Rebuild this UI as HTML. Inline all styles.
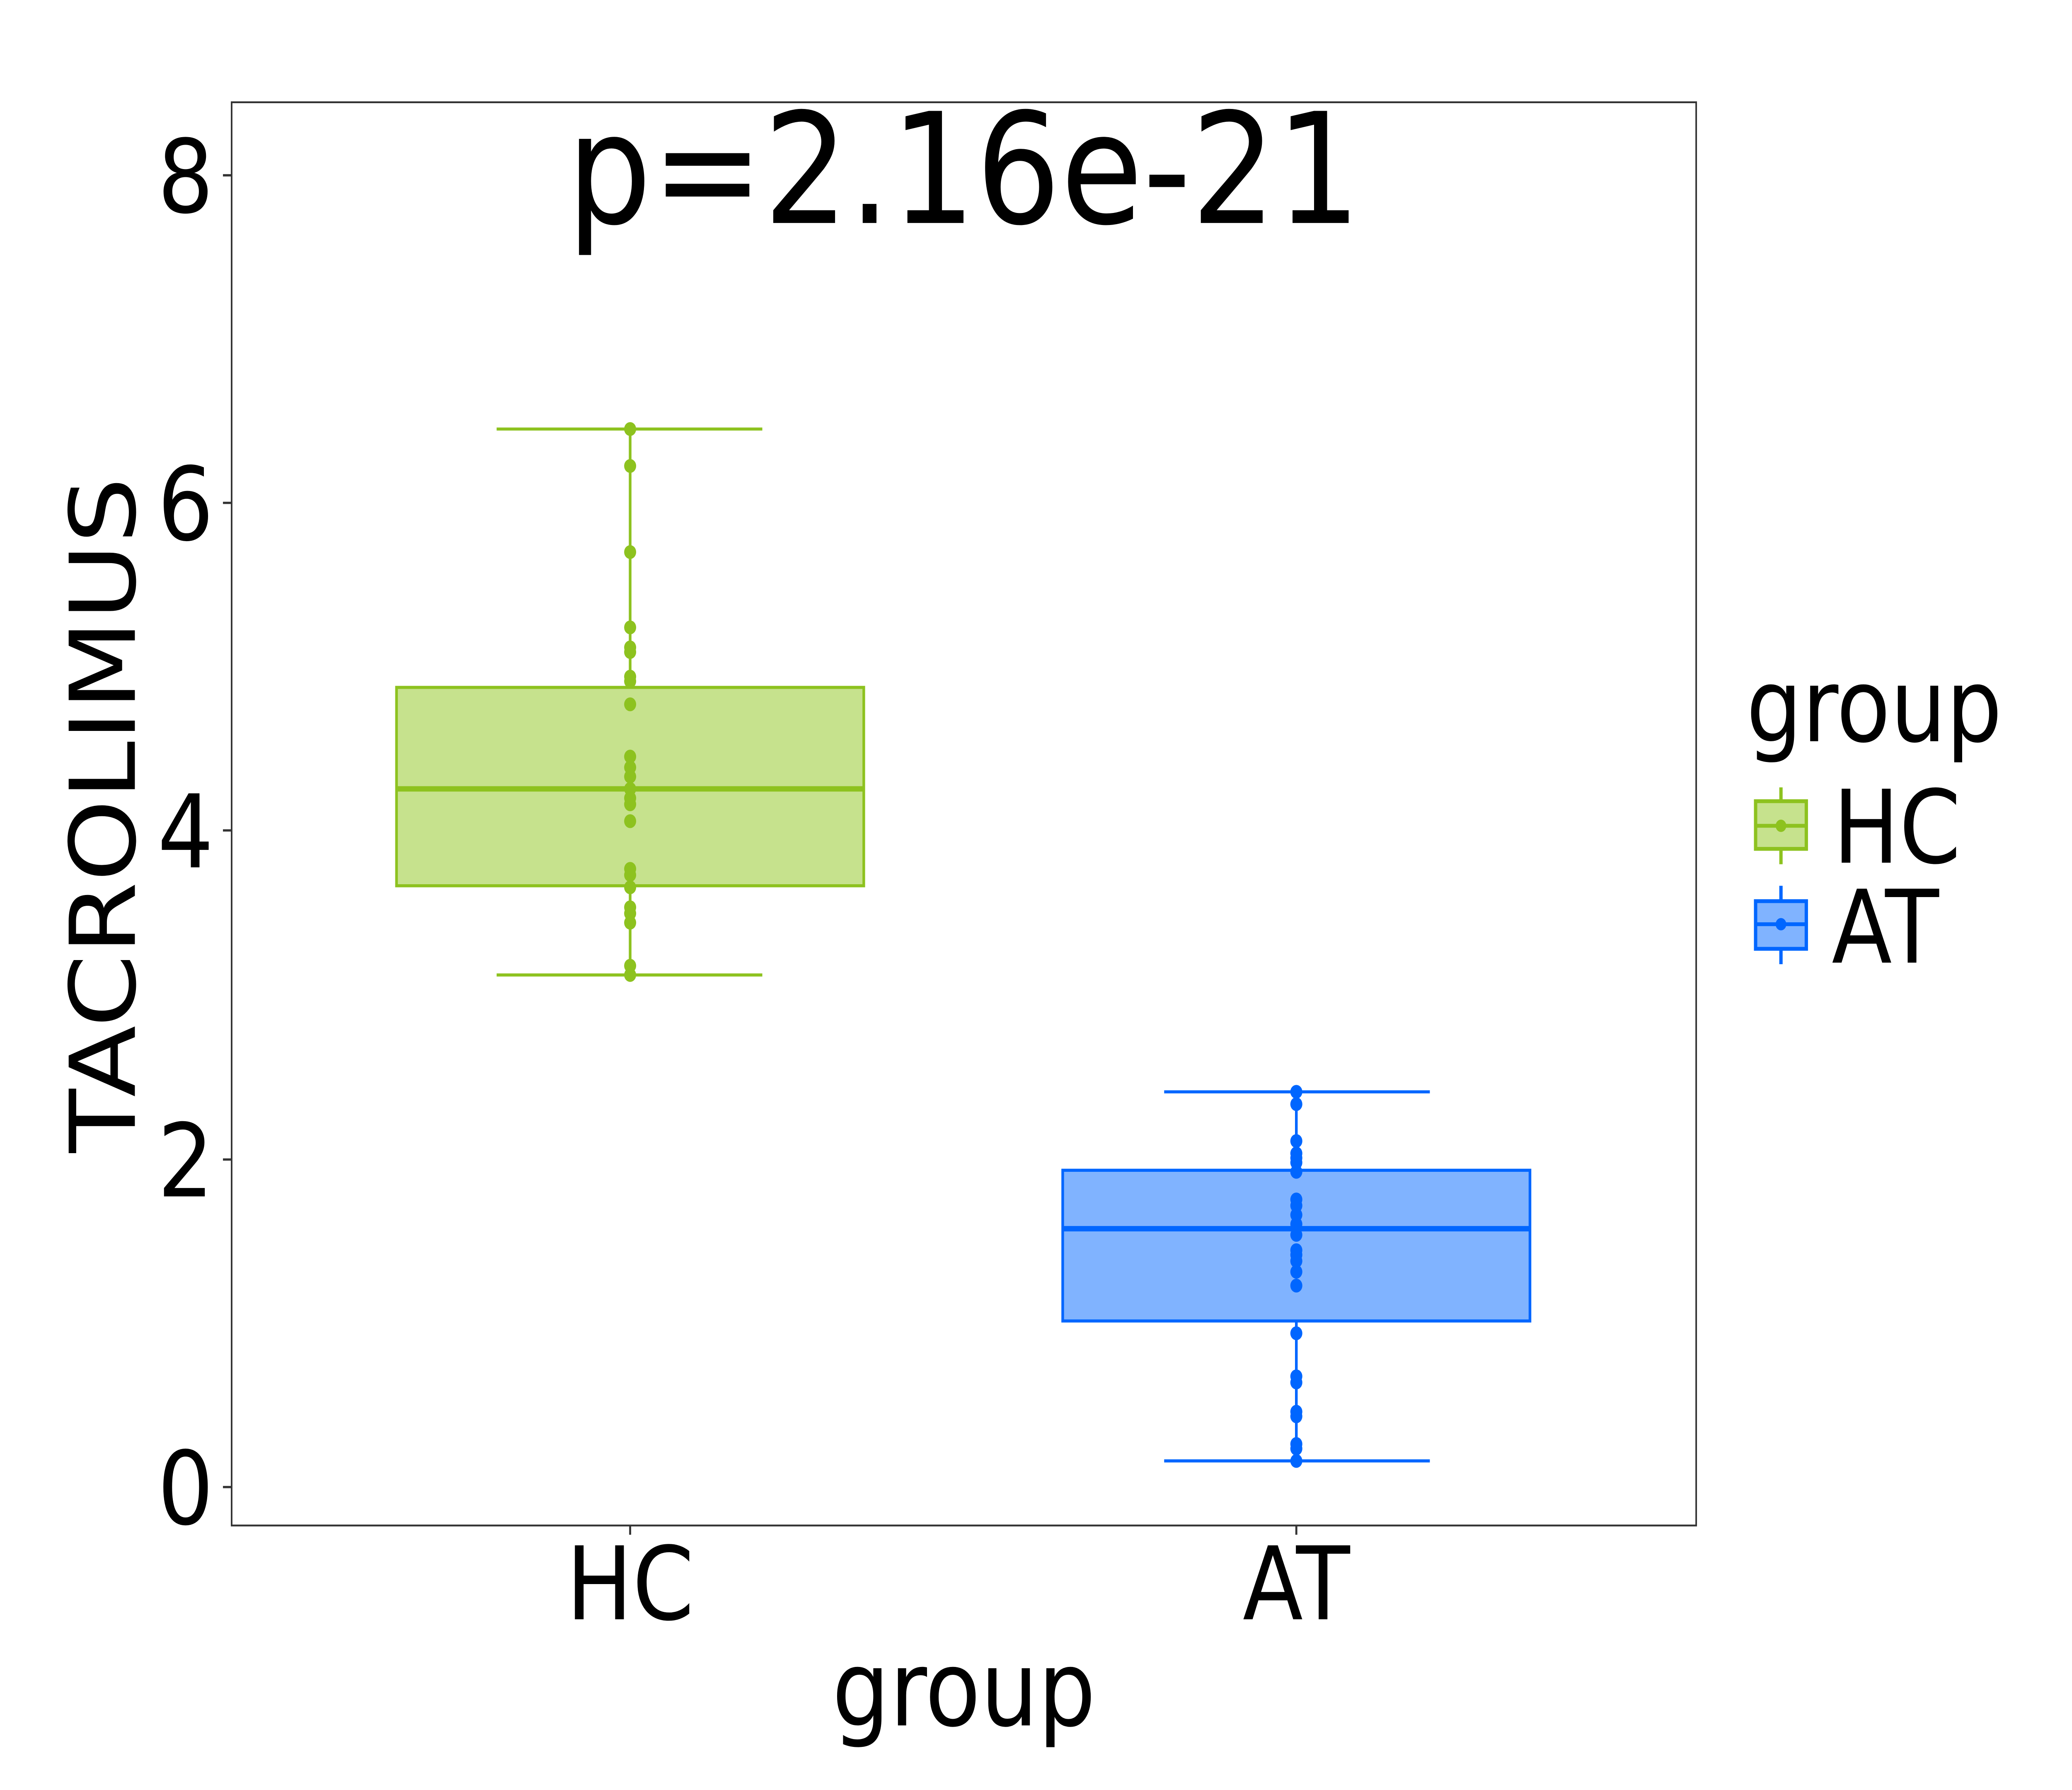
<!DOCTYPE html>
<html><head><style>html,body{margin:0;padding:0;background:#fff;overflow:hidden;width:100vw;height:100vh;}svg{display:block;width:100vw;height:100vh;}</style></head>
<body>
<svg viewBox="0 0 1552 1164" preserveAspectRatio="none" xmlns="http://www.w3.org/2000/svg" font-family="DejaVu Sans, Liberation Sans, sans-serif">
<rect width="1552" height="1164" fill="#fff"/>
<g stroke="#8dc21f" fill="#8dc21f">
<line x1="472" y1="279" x2="472" y2="634" stroke-width="2"/>
<line x1="372" y1="279" x2="571" y2="279" stroke-width="2"/>
<line x1="372" y1="634" x2="571" y2="634" stroke-width="2"/>
<rect x="297" y="447" width="350" height="129" fill="#c6e28d" stroke-width="2"/>
<line x1="297" y1="513" x2="647" y2="513" stroke-width="3.5"/>
<g stroke="none">
<circle cx="472" cy="279" r="4.5"/><circle cx="472" cy="303" r="4.5"/><circle cx="472" cy="359" r="4.5"/><circle cx="472" cy="408" r="4.5"/><circle cx="472" cy="421" r="4.5"/><circle cx="472" cy="424" r="4.5"/><circle cx="472" cy="440" r="4.5"/><circle cx="472" cy="443" r="4.5"/><circle cx="472" cy="458" r="4.5"/><circle cx="472" cy="492" r="4.5"/><circle cx="472" cy="499" r="4.5"/><circle cx="472" cy="505" r="4.5"/><circle cx="472" cy="513" r="4.5"/><circle cx="472" cy="519" r="4.5"/><circle cx="472" cy="523" r="4.5"/><circle cx="472" cy="534" r="4.5"/><circle cx="472" cy="565" r="4.5"/><circle cx="472" cy="569" r="4.5"/><circle cx="472" cy="577" r="4.5"/><circle cx="472" cy="590" r="4.5"/><circle cx="472" cy="594" r="4.5"/><circle cx="472" cy="600" r="4.5"/><circle cx="472" cy="628" r="4.5"/><circle cx="472" cy="634" r="4.5"/>
</g></g>
<g stroke="#0066ff" fill="#0066ff">
<line x1="971" y1="710" x2="971" y2="950" stroke-width="2"/>
<line x1="872" y1="710" x2="1071" y2="710" stroke-width="2"/>
<line x1="872" y1="950" x2="1071" y2="950" stroke-width="2"/>
<rect x="796" y="761" width="350" height="98" fill="#80b3ff" stroke-width="2"/>
<line x1="796" y1="799" x2="1146" y2="799" stroke-width="3.5"/>
<g stroke="none">
<circle cx="971" cy="710" r="4.5"/><circle cx="971" cy="718" r="4.5"/><circle cx="971" cy="742" r="4.5"/><circle cx="971" cy="750" r="4.5"/><circle cx="971" cy="753" r="4.5"/><circle cx="971" cy="756" r="4.5"/><circle cx="971" cy="762" r="4.5"/><circle cx="971" cy="780" r="4.5"/><circle cx="971" cy="784" r="4.5"/><circle cx="971" cy="790" r="4.5"/><circle cx="971" cy="796" r="4.5"/><circle cx="971" cy="803" r="4.5"/><circle cx="971" cy="813" r="4.5"/><circle cx="971" cy="816" r="4.5"/><circle cx="971" cy="820" r="4.5"/><circle cx="971" cy="827" r="4.5"/><circle cx="971" cy="836" r="4.5"/><circle cx="971" cy="867" r="4.5"/><circle cx="971" cy="895" r="4.5"/><circle cx="971" cy="899" r="4.5"/><circle cx="971" cy="918" r="4.5"/><circle cx="971" cy="921" r="4.5"/><circle cx="971" cy="939" r="4.5"/><circle cx="971" cy="942" r="4.5"/><circle cx="971" cy="950" r="4.5"/>
</g></g>
<rect x="173.5" y="66.5" width="1097" height="925.5" fill="none" stroke="#333" stroke-width="1.2"/>
<g stroke="#333" stroke-width="1.5">
<line x1="167" y1="114" x2="173" y2="114"/><line x1="167" y1="327" x2="173" y2="327"/><line x1="167" y1="540" x2="173" y2="540"/><line x1="167" y1="754" x2="173" y2="754"/><line x1="167" y1="967" x2="173" y2="967"/>
<line x1="472" y1="992" x2="472" y2="998"/><line x1="971" y1="992" x2="971" y2="998"/>
</g>
<g font-size="66" text-anchor="end" fill="#000">
<text x="160" y="138">8</text><text x="160" y="351">6</text><text x="160" y="564">4</text><text x="160" y="778">2</text><text x="160" y="991">0</text>
</g>
<g font-size="66" text-anchor="middle" fill="#000">
<text x="472" y="1053">HC</text><text x="971" y="1053">AT</text>
</g>
<text x="722" y="1122" font-size="68" text-anchor="middle">group</text>
<text transform="translate(101,530) rotate(-90)" font-size="68" text-anchor="middle">TACROLIMUS</text>
<text x="722" y="145" font-size="100" text-anchor="middle">p=2.16e-21</text>
<text x="1308" y="482" font-size="66">group</text>
<g stroke="#8dc21f" stroke-width="2.5">
<line x1="1334" y1="512" x2="1334" y2="562"/>
<rect x="1315" y="521" width="38" height="31" fill="#c6e28d"/>
<line x1="1315" y1="537" x2="1353" y2="537"/>
<circle cx="1334" cy="537" r="4" fill="#8dc21f" stroke="none"/>
</g>
<g stroke="#0066ff" stroke-width="2.5">
<line x1="1334" y1="576" x2="1334" y2="627"/>
<rect x="1315" y="586" width="38" height="31" fill="#80b3ff"/>
<line x1="1315" y1="601" x2="1353" y2="601"/>
<circle cx="1334" cy="601" r="4" fill="#0066ff" stroke="none"/>
</g>
<text x="1373" y="561" font-size="66">HC</text>
<text x="1372" y="626" font-size="66">AT</text>
</svg>
</body></html>
